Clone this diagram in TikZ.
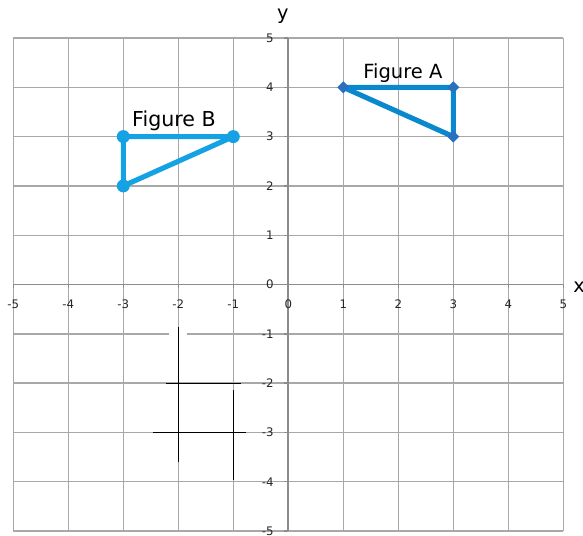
\documentclass[tikz,border=0pt]{standalone}
\usepackage{fontspec}
\setmainfont{DejaVu Sans}
\usetikzlibrary{shapes.geometric}
\definecolor{gridc}{HTML}{A8A8A8}
\definecolor{axisc}{HTML}{8C8C8C}
\definecolor{figA}{HTML}{0A88CE}
\definecolor{figAmark}{HTML}{2A70C0}
\definecolor{figB}{HTML}{14A2E4}
\tikzset{
  gridline/.style={draw=gridc, line width=0.8pt},
  axisline/.style={draw=axisc, line width=1.1pt},
  ticklab/.style={font=\fontsize{6.7}{7}\selectfont, text=black!85, inner sep=0pt},
  axlab/.style={font=\fontsize{11}{13}\selectfont, inner sep=0pt},
  figlab/.style={inner sep=0pt, anchor=base},
  edgeA/.style={draw=figA, line width=2.9pt, line join=round},
  edgeB/.style={draw=figB, line width=2.9pt, line join=round},
  dotB/.style={circle, fill=figB, minimum size=7.4pt, inner sep=0pt},
  markA/.style={diamond, fill=figAmark, minimum size=7pt, inner sep=0pt},
  stroke/.style={draw=black, line width=0.55pt}
}
\begin{document}
\begin{tikzpicture}[x=1.1cm, y=0.986cm]
\useasboundingbox (-5.242,-5.081) rectangle (5.358,5.771);
% grid
\foreach \i in {-5,...,5} {
  \draw[gridline] (\i,-5) -- (\i,5);
  \draw[gridline] (-5,\i) -- (5,\i);
}
% gap in the grid line
\fill[white] (-2.17,-1.03) rectangle (-1.84,-0.97);
% axes
\coordinate (xl) at (-5,0);
\coordinate (xr) at (5,0);
\coordinate (yb) at (0,-5);
\coordinate (yt) at (0,5);
\draw[axisline] (xl) -- (xr);
\draw[axisline] (yb) -- (yt);
\foreach \i in {-5,...,5} {
  \draw[axisline, line width=0.8pt] (\i,0) -- (\i,-0.08);
  \draw[axisline, line width=0.8pt] (0,\i) -- (-0.08,\i);
  \node[ticklab] (tx\i) at (\i,-0.406) {\i};
  \node[ticklab, anchor=east] (ty\i) at (-0.26,\i) {\i};
}
\node[axlab] (ylab) at (-0.1,5.45) {y};
\node[axlab] (xlab) at (5.285,-0.05) {x};
% black strokes
\coordinate (s1a) at (-2,-0.856);
\coordinate (s1b) at (-2,-3.594);
\coordinate (s2a) at (-2.224,-2);
\coordinate (s2b) at (-0.86,-2);
\coordinate (s3a) at (-2.455,-3);
\coordinate (s3b) at (-0.769,-3);
\coordinate (s4a) at (-1,-2.14);
\coordinate (s4b) at (-1,-3.966);
\draw[stroke] (s1a) -- (s1b);
\draw[stroke] (s2a) -- (s2b);
\draw[stroke] (s3a) -- (s3b);
\draw[stroke] (s4a) -- (s4b);
% Figure A
\coordinate (a1) at (1,4);
\coordinate (a2) at (3,4);
\coordinate (a3) at (3,3);
\draw[edgeA] (a1) -- (a2) -- (a3) -- cycle;
\node[markA] (ma1) at (a1) {};
\node[markA] (ma2) at (a2) {};
\node[markA] (ma3) at (a3) {};
\node[figlab, font=\fontsize{11.1}{13}\selectfont] (labA) at (2.083,4.18) {Figure A};
% Figure B
\coordinate (b1) at (-3,3);
\coordinate (b2) at (-1,3);
\coordinate (b3) at (-3,2);
\draw[edgeB] (b1) -- (b2) -- (b3) -- cycle;
\node[dotB] (mb1) at (b1) {};
\node[dotB] (mb2) at (b2) {};
\node[dotB] (mb3) at (b3) {};
\node[figlab, font=\fontsize{11.7}{14}\selectfont] (labB) at (-2.08,3.2) {Figure B};
\end{tikzpicture}
\end{document}
